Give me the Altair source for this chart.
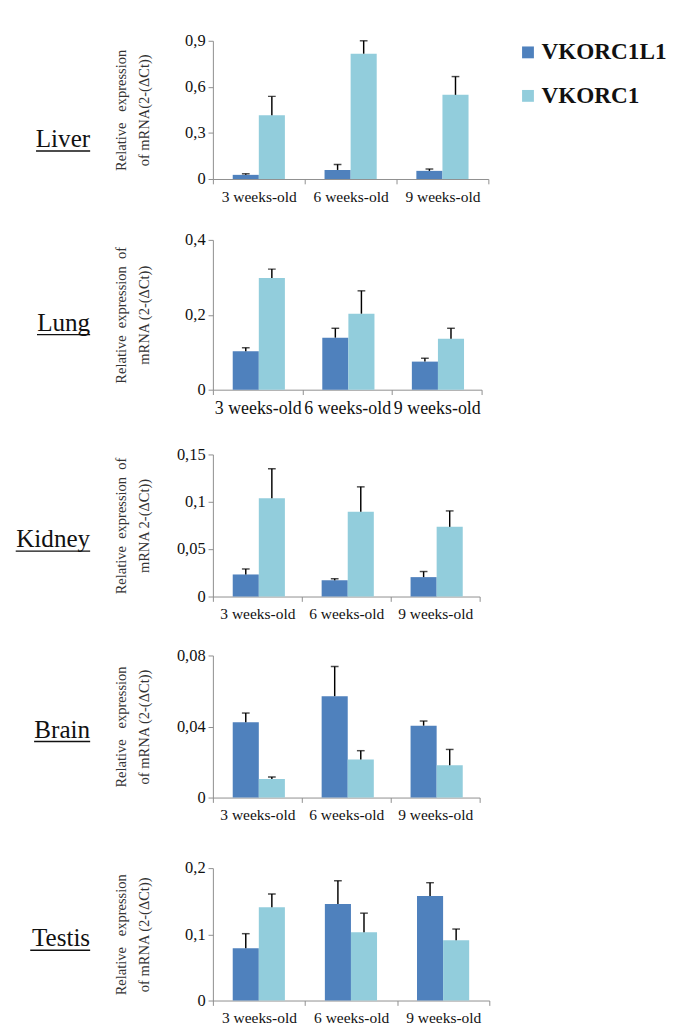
import altair as alt
import pandas as pd

ages = ["3 weeks-old", "6 weeks-old", "9 weeks-old"]
genes = ["VKORC1L1", "VKORC1"]
colors = ["#4F81BD", "#92CDDC"]

# values (mean, and length of the upper error bar)
liver_l1 = [0.027, 0.059, 0.053]
liver_l1_err = [0.007, 0.036, 0.012]
liver_v = [0.415, 0.816, 0.548]
liver_v_err = [0.123, 0.084, 0.119]

lung_l1 = [0.103, 0.139, 0.075]
lung_l1_err = [0.009, 0.025, 0.009]
lung_v = [0.298, 0.203, 0.136]
lung_v_err = [0.024, 0.061, 0.028]

kidney_l1 = [0.0233, 0.0171, 0.0205]
kidney_l1_err = [0.0058, 0.0017, 0.0059]
kidney_v = [0.1038, 0.0894, 0.0736]
kidney_v_err = [0.0312, 0.0264, 0.0168]

brain_l1 = [0.0424, 0.0571, 0.0405]
brain_l1_err = [0.0052, 0.0167, 0.0026]
brain_v = [0.0104, 0.0215, 0.0182]
brain_v_err = [0.0012, 0.0049, 0.0089]

testis_l1 = [0.079, 0.146, 0.158]
testis_l1_err = [0.022, 0.035, 0.020]
testis_v = [0.141, 0.103, 0.091]
testis_v_err = [0.020, 0.029, 0.017]

NB = "\u00a0"

# layout of each panel (sizes, text placement, space kept below it)
panels = [
    dict(name="Liver", l1=liver_l1, l1e=liver_l1_err, v=liver_v, ve=liver_v_err,
         ymax=0.9, ticks=[0, 0.3, 0.6, 0.9],
         title=["Relative" + NB * 3 + "expression", "of mRNA(2-(ΔCt))"],
         w=285, h=143, label_y=110, ul_w=56, xfont=16, below=46),
    dict(name="Lung", l1=lung_l1, l1e=lung_l1_err, v=lung_v, ve=lung_v_err,
         ymax=0.4, ticks=[0, 0.2, 0.4],
         title=["Relative" + NB * 2 + "expression" + NB * 2 + "of", "mRNA (2-(ΔCt))"],
         w=278, h=155, label_y=94, ul_w=55, xfont=18.5, below=50),
    dict(name="Kidney", l1=kidney_l1, l1e=kidney_l1_err, v=kidney_v, ve=kidney_v_err,
         ymax=0.15, ticks=[0, 0.05, 0.1, 0.15],
         title=["Relative" + NB * 2 + "expression" + NB * 2 + "of", "mRNA 2-(ΔCt))"],
         w=276, h=147, label_y=96, ul_w=77, xfont=16, below=44),
    dict(name="Brain", l1=brain_l1, l1e=brain_l1_err, v=brain_v, ve=brain_v_err,
         ymax=0.08, ticks=[0, 0.04, 0.08],
         title=["Relative" + NB * 3 + "expression", "of mRNA (2-(ΔCt))"],
         w=276, h=147, label_y=85, ul_w=58, xfont=16, below=56),
    dict(name="Testis", l1=testis_l1, l1e=testis_l1_err, v=testis_v, ve=testis_v_err,
         ymax=0.2, ticks=[0, 0.1, 0.2],
         title=["Relative" + NB * 3 + "expression", "of mRNA (2-(ΔCt))"],
         w=286, h=137, label_y=81, ul_w=62, xfont=16, below=0),
]

FONT = "Liberation Serif"
AXIS_GRAY = "#8c8c8c"
LABEL_X = -127
ABOVE = 15


def make_panel(cfg, show_legend):
    rows = []
    for g, vals, errs in ((genes[0], cfg["l1"], cfg["l1e"]), (genes[1], cfg["v"], cfg["ve"])):
        for a, v, e in zip(ages, vals, errs):
            rows.append({"age": a, "gene": g, "value": v, "top": v + e})
    df = pd.DataFrame(rows)
    base = alt.Chart(df)

    x_axis = alt.Axis(title=None, labelAngle=0, tickBand="extent", tickSize=5,
                      tickColor=AXIS_GRAY, domainColor=AXIS_GRAY, labelFont=FONT,
                      labelFontSize=cfg["xfont"], labelColor="#111", labelPadding=5)
    x = alt.X("age:N", sort=ages, axis=x_axis,
              scale=alt.Scale(paddingInner=0, paddingOuter=0))
    xo = alt.XOffset("gene:N", sort=genes,
                     scale=alt.Scale(paddingInner=0, paddingOuter=0.76))
    y_axis = alt.Axis(title=cfg["title"], values=cfg["ticks"], grid=False,
                      labelExpr="replace(toString(datum.value), '.', ',')",
                      tickSize=5, tickColor=AXIS_GRAY, domainColor=AXIS_GRAY,
                      labelFont=FONT, labelFontSize=17, labelColor="#111", labelPadding=3,
                      titleFont=FONT, titleFontSize=15, titleFontWeight="normal",
                      titleColor="#333", titleLineHeight=23, titleAngle=270,
                      titleBaseline="bottom", titleAlign="center",
                      titleX=-87, titleY=cfg["h"] / 2)
    yscale = alt.Scale(domain=[0, cfg["ymax"]], nice=False)

    if show_legend:
        legend = alt.Legend(title=None, orient="right", offset=29, padding=0,
                            symbolType="square", symbolSize=150, symbolStrokeWidth=0,
                            labelFont=FONT, labelFontSize=24, labelFontWeight="bold",
                            labelColor="#111", rowPadding=21, labelOffset=2)
    else:
        legend = None
    color = alt.Color("gene:N", sort=genes,
                      scale=alt.Scale(domain=genes, range=colors), legend=legend)

    bars = base.mark_bar().encode(
        x=x, xOffset=xo, y=alt.Y("value:Q", scale=yscale, axis=y_axis), color=color)
    err = base.mark_rule(color="black", strokeWidth=1.5).encode(
        x=x, xOffset=xo, y=alt.Y("value:Q", scale=yscale, axis=y_axis), y2="top:Q")
    cap = base.mark_tick(color="black", thickness=1.5, size=8).encode(
        x=x, xOffset=xo, y=alt.Y("top:Q", scale=yscale, axis=y_axis))

    name_df = pd.DataFrame({"t": [cfg["name"]]})
    label = alt.Chart(name_df).mark_text(
        align="right", baseline="alphabetic", font=FONT, fontSize=26, color="#111"
    ).encode(text="t:N", x=alt.value(LABEL_X), y=alt.value(cfg["label_y"]))
    underline = alt.Chart(name_df).mark_rule(color="#111", strokeWidth=1.4).encode(
        x=alt.value(LABEL_X - cfg["ul_w"]), x2=alt.value(LABEL_X),
        y=alt.value(cfg["label_y"] + 4))
    # white spacers that fix how much room each panel keeps above and below it
    top_spacer = alt.Chart(name_df).mark_rule(color="white", strokeWidth=1).encode(
        x=alt.value(-40), y=alt.value(-ABOVE), y2=alt.value(-ABOVE + 3))
    layers = [bars, err, cap, label, underline, top_spacer]
    if cfg["below"]:
        spacer = alt.Chart(name_df).mark_rule(color="white", strokeWidth=1).encode(
            x=alt.value(-40), y=alt.value(cfg["h"] + cfg["below"] - 3),
            y2=alt.value(cfg["h"] + cfg["below"]))
        layers.append(spacer)

    return alt.layer(*layers).properties(width=cfg["w"], height=cfg["h"])


charts = [make_panel(c, i == 0) for i, c in enumerate(panels)]

chart = alt.vconcat(*charts, spacing=0).resolve_scale(
    color="independent", x="independent", y="independent"
).properties(
    padding={"left": 7, "top": 0, "right": 5, "bottom": 0}
).configure(font=FONT, background="white").configure_view(stroke=None)

chart.save("out.html", embed_options={"renderer": "svg", "actions": False})
